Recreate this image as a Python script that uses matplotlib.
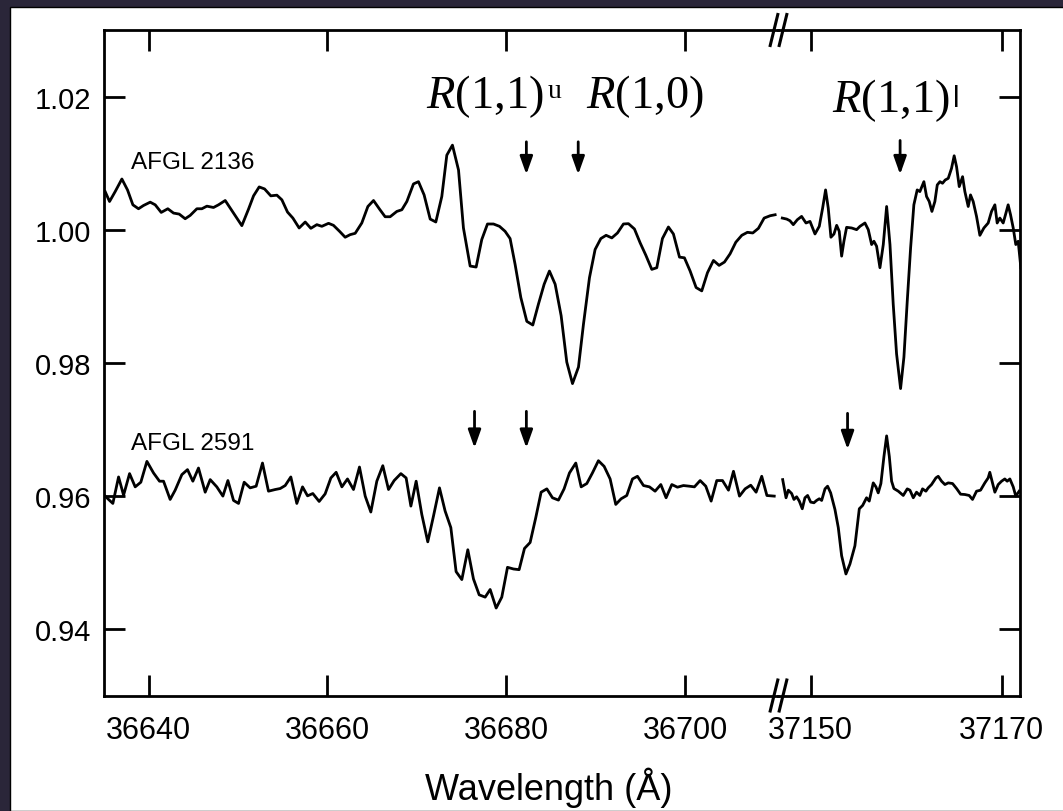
#!/usr/bin/env python3
# Absorption spectra of AFGL 2136 and AFGL 2591 around the R(1,1) / R(1,0) lines

import matplotlib
matplotlib.use("Agg")
import matplotlib.pyplot as plt
from matplotlib.lines import Line2D
from matplotlib.patches import Rectangle

# --- data --------------------------------------------------------------------
# AFGL 2136, blue part (36635-36710 A)
wl_2136_a = [
    36635.13, 36635.62, 36636.25, 36637.00, 36637.63, 36638.23, 36638.86, 36639.42,
    36640.17, 36640.73, 36641.40, 36642.14, 36642.78, 36643.41, 36644.08, 36644.64,
    36645.39, 36645.95, 36646.51, 36647.25, 36647.81, 36648.56, 36649.49, 36650.42,
    36651.17, 36651.73, 36652.36, 36652.96, 36653.66, 36654.34, 36654.90, 36655.53,
    36656.13, 36656.83, 36657.51, 36658.14, 36658.81, 36659.37, 36660.12, 36660.67,
    36661.35, 36661.98, 36662.54, 36663.10, 36663.84, 36664.52, 36665.15, 36665.82,
    36666.45, 36667.01, 36667.76, 36668.32, 36668.88, 36669.62, 36670.18, 36670.81,
    36671.49, 36672.12, 36672.79, 36673.35, 36673.98, 36674.66, 36675.21, 36675.96,
    36676.63, 36677.26, 36677.90, 36678.57, 36679.24, 36679.87, 36680.43, 36680.99,
    36681.63, 36682.30, 36682.97, 36683.60, 36684.24, 36684.83, 36685.47, 36686.14,
    36686.77, 36687.41, 36688.08, 36688.64, 36689.31, 36689.94, 36690.58, 36691.17,
    36691.81, 36692.44, 36693.11, 36693.67, 36694.34, 36694.98, 36695.61, 36696.28,
    36696.84, 36697.47, 36698.14, 36698.70, 36699.38, 36699.93, 36700.57, 36701.24,
    36701.87, 36702.51, 36703.18, 36703.81, 36704.41, 36705.04, 36705.68, 36706.35,
    36706.98, 36707.58, 36708.21, 36708.85, 36709.52, 36710.08,
]
flux_2136_a = [
    1.00572, 1.00423, 1.00572, 1.00761, 1.00597, 1.00373, 1.00314, 1.00363,
    1.00413, 1.00373, 1.00259, 1.00314, 1.00249, 1.00234, 1.00164, 1.00214,
    1.00314, 1.00314, 1.00353, 1.00333, 1.00373, 1.00438, 1.00249, 1.00060,
    1.00309, 1.00508, 1.00642, 1.00612, 1.00508, 1.00518, 1.00448, 1.00264,
    1.00174, 1.00025, 1.00115, 1.00020, 1.00075, 1.00050, 1.00095, 1.00065,
    0.99975, 0.99886, 0.99925, 0.99945, 1.00100, 1.00348, 1.00438, 1.00309,
    1.00194, 1.00194, 1.00274, 1.00299, 1.00423, 1.00687, 1.00721, 1.00522,
    1.00159, 1.00115, 1.00498, 1.01119, 1.01270, 1.00896, 1.00025, 0.99453,
    0.99438, 0.99851, 1.00085, 1.00085, 1.00050, 0.99975, 0.99866, 0.99478,
    0.98980, 0.98622, 0.98567, 0.98881, 0.99180, 0.99378, 0.99180, 0.98707,
    0.98010, 0.97687, 0.97936, 0.98582, 0.99279, 0.99702, 0.99866, 0.99915,
    0.99876, 0.99950, 1.00085, 1.00090, 1.00010, 0.99801, 0.99617, 0.99403,
    0.99428, 0.99866, 1.00040, 0.99935, 0.99587, 0.99577, 0.99378, 0.99130,
    0.99080, 0.99353, 0.99537, 0.99463, 0.99513, 0.99637, 0.99811, 0.99915,
    0.99960, 0.99950, 1.00020, 1.00174, 1.00209, 1.00224,
]

# AFGL 2136, red part (37147-37172 A)
wl_2136_b = [
    37147.02, 37147.48, 37147.82, 37148.17, 37148.59, 37149.04, 37149.50, 37149.92,
    37150.44, 37150.89, 37151.24, 37151.55, 37151.83, 37152.11, 37152.43, 37152.71,
    37152.98, 37153.23, 37153.47, 37153.75, 37154.28, 37154.80, 37155.15, 37155.67,
    37156.02, 37156.37, 37156.61, 37156.89, 37157.24, 37157.59, 37157.94, 37158.29,
    37158.63, 37158.98, 37159.40, 37159.75, 37160.10, 37160.45, 37160.79, 37161.14,
    37161.42, 37161.84, 37162.12, 37162.40, 37162.68, 37162.99, 37163.24, 37163.52,
    37163.79, 37164.07, 37164.39, 37164.73, 37165.01, 37165.26, 37165.54, 37165.89,
    37166.13, 37166.48, 37166.72, 37167.00, 37167.35, 37167.70, 37168.12, 37168.57,
    37168.92, 37169.27, 37169.51, 37169.79, 37170.14, 37170.38, 37170.66, 37170.91,
    37171.19, 37171.46, 37171.71, 37171.99,
]
flux_2136_b = [
    1.00174, 1.00159, 1.00134, 1.00075, 1.00149, 1.00199, 1.00100, 1.00124,
    0.99935, 1.00050, 1.00323, 1.00597, 1.00323, 0.99886, 0.99935, 1.00065,
    0.99975, 0.99602, 0.99826, 1.00035, 1.00025, 1.00000, 1.00050, 1.00100,
    1.00000, 0.99776, 0.99826, 0.99751, 0.99428, 0.99776, 1.00348, 0.99776,
    0.98881, 0.98134, 0.97612, 0.98085, 0.98930, 0.99726, 1.00373, 1.00597,
    1.00572, 1.00721, 1.00498, 1.00423, 1.00274, 1.00423, 1.00672, 1.00721,
    1.00697, 1.00746, 1.00771, 1.00920, 1.01110, 1.00945, 1.00647, 1.00796,
    1.00572, 1.00348, 1.00522, 1.00423, 1.00199, 0.99915, 1.00025, 1.00100,
    1.00274, 1.00373, 1.00100, 1.00174, 1.00100, 1.00224, 1.00373, 1.00224,
    1.00025, 0.99776, 0.99826, 0.99428,
]

# AFGL 2591, blue part
wl_2591_a = [
    36635.13, 36635.51, 36635.99, 36636.63, 36637.19, 36637.86, 36638.49, 36639.12,
    36639.80, 36640.54, 36641.21, 36641.66, 36642.40, 36642.96, 36643.71, 36644.34,
    36644.94, 36645.57, 36646.32, 36646.88, 36647.62, 36648.30, 36648.86, 36649.49,
    36650.05, 36650.68, 36651.35, 36652.02, 36652.73, 36653.40, 36654.15, 36654.71,
    36655.27, 36655.90, 36656.57, 36657.21, 36657.77, 36658.36, 36659.07, 36659.74,
    36660.38, 36660.97, 36661.61, 36662.24, 36662.91, 36663.58, 36664.22, 36664.85,
    36665.52, 36666.19, 36666.83, 36667.46, 36668.21, 36668.80, 36669.33, 36669.92,
    36670.55, 36671.22, 36671.86, 36672.53, 36673.16, 36673.80, 36674.39, 36675.03,
    36675.70, 36676.33, 36676.97, 36677.64, 36678.20, 36678.87, 36679.50, 36680.14,
    36680.81, 36681.44, 36682.04, 36682.67, 36683.30, 36683.90, 36684.54, 36685.17,
    36685.84, 36686.47, 36687.07, 36687.78, 36688.38, 36689.01, 36689.64, 36690.31,
    36690.95, 36691.62, 36692.25, 36692.85, 36693.48, 36694.12, 36694.68, 36695.35,
    36696.02, 36696.65, 36697.29, 36697.88, 36698.52, 36699.15, 36699.82, 36700.49,
    36701.05, 36701.69, 36702.32, 36702.92, 36703.55, 36704.19, 36704.86, 36705.42,
    36706.09, 36706.72, 36707.35, 36707.95, 36708.58, 36709.16, 36709.98,
]
flux_2591_a = [
    0.95996, 0.95946, 0.95886, 0.96284, 0.96010, 0.96334, 0.96135, 0.96205,
    0.96518, 0.96344, 0.96220, 0.96220, 0.95946, 0.96085, 0.96319, 0.96394,
    0.96220, 0.96418, 0.96055, 0.96244, 0.96135, 0.95996, 0.96230, 0.95931,
    0.95886, 0.96205, 0.96120, 0.96145, 0.96493, 0.96070, 0.96095, 0.96110,
    0.96155, 0.96284, 0.95886, 0.96135, 0.96000, 0.96035, 0.95916, 0.96030,
    0.96269, 0.96354, 0.96135, 0.96254, 0.96095, 0.96433, 0.95996, 0.95757,
    0.96220, 0.96453, 0.96095, 0.96230, 0.96334, 0.96269, 0.95846, 0.96220,
    0.95722, 0.95309, 0.95697, 0.96120, 0.95772, 0.95523, 0.94861, 0.94742,
    0.95190, 0.94752, 0.94513, 0.94478, 0.94593, 0.94314, 0.94478, 0.94926,
    0.94901, 0.94891, 0.95210, 0.95299, 0.95672, 0.96055, 0.96105, 0.95971,
    0.95936, 0.96105, 0.96344, 0.96493, 0.96135, 0.96185, 0.96344, 0.96528,
    0.96443, 0.96254, 0.95871, 0.95956, 0.96005, 0.96254, 0.96294, 0.96155,
    0.96135, 0.96070, 0.96170, 0.95971, 0.96170, 0.96130, 0.96155, 0.96145,
    0.96135, 0.96230, 0.96145, 0.95921, 0.96230, 0.96230, 0.96085, 0.96369,
    0.95996, 0.96105, 0.96160, 0.96055, 0.96294, 0.96005, 0.95996,
]

# AFGL 2591, red part
wl_2591_b = [
    37147.06, 37147.41, 37147.65, 37148.00, 37148.24, 37148.52, 37148.80, 37149.11,
    37149.39, 37149.67, 37149.99, 37150.33, 37150.61, 37150.89, 37151.14, 37151.49,
    37151.76, 37152.08, 37152.53, 37152.88, 37153.23, 37153.68, 37154.10, 37154.62,
    37155.08, 37155.43, 37155.84, 37156.12, 37156.54, 37156.82, 37157.06, 37157.34,
    37157.66, 37157.94, 37158.22, 37158.46, 37158.70, 37159.16, 37159.68, 37160.10,
    37160.38, 37160.73, 37161.07, 37161.42, 37161.70, 37162.05, 37162.29, 37162.64,
    37163.10, 37163.34, 37163.69, 37164.04, 37164.39, 37164.84, 37165.26, 37165.68,
    37166.13, 37166.58, 37166.93, 37167.35, 37167.77, 37168.22, 37168.57, 37168.74,
    37169.02, 37169.27, 37169.62, 37169.97, 37170.31, 37170.56, 37170.84, 37171.19,
    37171.46, 37171.81,
]
flux_2591_b = [
    0.96244, 0.95971, 0.96085, 0.96035, 0.95946, 0.95986, 0.95921, 0.95806,
    0.95971, 0.96006, 0.95906, 0.95896, 0.95931, 0.95956, 0.95931, 0.96105,
    0.96145, 0.96045, 0.95796, 0.95523, 0.95100, 0.94826, 0.94976, 0.95249,
    0.95806, 0.95856, 0.95971, 0.95921, 0.96195, 0.96135, 0.96045, 0.96185,
    0.96593, 0.96901, 0.96593, 0.96220, 0.96110, 0.96070, 0.96006, 0.96105,
    0.96085, 0.95971, 0.96055, 0.96006, 0.96105, 0.96070, 0.96120, 0.96170,
    0.96270, 0.96294, 0.96220, 0.96170, 0.96195, 0.96185, 0.96110, 0.96025,
    0.96020, 0.96006, 0.95946, 0.96070, 0.96085, 0.96195, 0.96270, 0.96354,
    0.96195, 0.96055, 0.96170, 0.96220, 0.96254, 0.96220, 0.96254, 0.96135,
    0.95996, 0.96070,
]

# line positions marked by arrows
arrows_2136_a = [36682.25, 36688.05]
arrows_2591_a = [36676.45, 36682.25]
arrows_2136_b = [37159.35]
arrows_2591_b = [37153.85]

xticks_a = [36640, 36660, 36680, 36700]
xticks_b = [37150, 37170]
yticks = [0.94, 0.96, 0.98, 1.00, 1.02]

# --- figure ------------------------------------------------------------------
plt.rcParams["font.family"] = ["Liberation Sans", "DejaVu Sans"]
plt.rcParams["mathtext.fontset"] = "custom"
plt.rcParams["mathtext.rm"] = "Liberation Serif"
plt.rcParams["mathtext.it"] = "Liberation Serif:italic"

W, H = 1063, 812
fig = plt.figure(figsize=(W / 100, H / 100), dpi=100)
fig.patch.set_facecolor("#2a2639")
fig.patches.append(Rectangle((10 / W, 0), 1.0, 1 - 8 / H, transform=fig.transFigure,
                             facecolor="white", edgecolor="black", lw=1, zorder=-5))

bottom = (H - 696.5) / H
height = (696.5 - 31) / H
x_break = 778
ax1 = fig.add_axes([104 / W, bottom, (x_break - 104) / W, height])
ax2 = fig.add_axes([x_break / W, bottom, (1020 - x_break) / W, height])

LW = 2.0
ax1.plot(wl_2136_a, flux_2136_a, color="black", lw=LW)
ax1.plot(wl_2591_a, flux_2591_a, color="black", lw=LW)
ax2.plot(wl_2136_b, flux_2136_b, color="black", lw=LW)
ax2.plot(wl_2591_b, flux_2591_b, color="black", lw=LW)

ax1.set_xlim(36635.0, 36710.4)
ax2.set_xlim(37146.57, 37171.9)
for ax in (ax1, ax2):
    ax.set_facecolor("none")
    ax.set_ylim(0.93, 1.03)
    ax.set_yticks(yticks)
    for s in ax.spines.values():
        s.set_linewidth(LW)
    ax.tick_params(direction="in", length=15, width=LW, top=True)
    ax.tick_params(axis="x", labelsize=22, pad=14)
    ax.tick_params(axis="y", labelsize=21, pad=9)
ax1.spines["right"].set_visible(False)
ax2.spines["left"].set_visible(False)
ax1.set_xticks(xticks_a)
ax2.set_xticks(xticks_b)
ax1.set_yticklabels([f"{v:.2f}" for v in yticks])
ax1.tick_params(axis="y", left=True, right=False)
ax2.tick_params(axis="y", left=False, right=True, labelleft=False)

# arrows marking the absorption lines
arrow_kw = dict(arrowstyle="-|>,head_length=0.9,head_width=0.32", color="black",
                lw=2, mutation_scale=12, shrinkA=0, shrinkB=0)
for ax, xs, y0, y1 in [(ax1, arrows_2136_a, 1.0132, 1.0083),
                       (ax1, arrows_2591_a, 0.9727, 0.9672),
                       (ax2, arrows_2136_b, 1.0134, 1.0083),
                       (ax2, arrows_2591_b, 0.9724, 0.9670)]:
    for x in xs:
        ax.annotate("", xy=(x, y1), xytext=(x, y0), arrowprops=arrow_kw,
                    annotation_clip=False)

# axis break marks
for xc in (774, 783):
    for yc in (31, 696.5):
        fig.add_artist(Line2D([(xc - 3.8) / W, (xc + 3.8) / W],
                              [1 - (yc + 15.5) / H, 1 - (yc - 15.5) / H],
                              transform=fig.transFigure, color="black", lw=2.2))

# labels
fig.text(131 / W, 1 - 169.3 / H, "AFGL 2136", fontsize=17.5, va="baseline")
fig.text(131 / W, 1 - 450 / H, "AFGL 2591", fontsize=17.5, va="baseline")

serif = dict(family="Liberation Serif", fontsize=33.5, va="baseline")
fig.text(426 / W, 1 - 108 / H, r"$R$(1,1)", **serif)
fig.text(548 / W, 1 - 98.5 / H, "u", family="Liberation Serif", fontsize=20,
         va="baseline")
fig.text(586 / W, 1 - 108 / H, r"$R$(1,0)", **serif)
fig.text(832 / W, 1 - 112 / H, r"$R$(1,1)", **serif)
fig.text(953 / W, 1 - 107 / H, "l", fontsize=21, va="baseline")

fig.text(549 / W, 1 - 800 / H, "Wavelength (Å)", fontsize=26, ha="center",
         va="baseline")

fig.savefig("out.png", dpi=100, facecolor=fig.get_facecolor())
